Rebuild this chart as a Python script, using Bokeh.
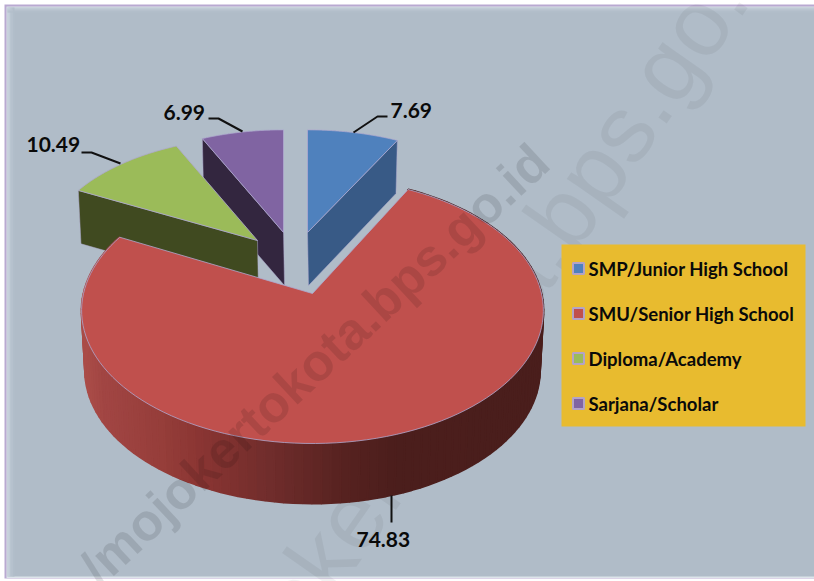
import numpy as np
from bokeh.plotting import figure
from bokeh.models import Range1d
from bokeh.core.properties import value
from bokeh.embed import file_html
from bokeh.resources import INLINE

# ---- data -----------------------------------------------------------------
categories = ["SMP/Junior High School", "SMU/Senior High School", "Diploma/Academy", "Sarjana/Scholar"]
values = [7.69, 74.83, 10.49, 6.99]
top_colors = ["#4F81BD", "#C0504D", "#9BBB59", "#8064A2"]
wall_colors = ["#385A86", "#7A302E", "#404A20", "#33263F"]
value_labels = ["7.69", "74.83", "10.49", "6.99"]

# ---- layout (page pixels) ---------------------------------------------------
W, H = 814, 581
BG = "#B0BCC8"
AX, BY, K = 229.0, 130.8, 0.128          # perspective of the pie's plane
DEPTH = 60.0
BOTTOM_X = 0.985
APEX = [(307, 232), (312, 293), (257, 240), (283, 232)]
SCALE_X = [0.94, 1.0, 0.93, 0.93]
SCALE_Y = [0.885, 1.0, 0.89, 0.885]
EDGE = "#AEA8CF"
LEADERS = [((353, 132), (377, 116), (387, 116)),
           ((391, 495), (391, 522), (391, 522)),
           ((120, 163), (91, 152), (81, 152)),
           ((242, 131), (218, 118), (208, 118))]
LABEL_POS = [(390, 110), (356, 539), (26, 144), (163, 112)]
FONT = "Lato"

p = figure(width=W, height=H, x_range=Range1d(0, W), y_range=Range1d(H, 0),
           output_backend="svg", toolbar_location=None, min_border=0,
           background_fill_color="white", border_fill_color="white", outline_line_color=None)
p.axis.visible = False
p.grid.visible = False
p.styles = {"position": "absolute", "left": "0px", "top": "0px"}

# ---- panel -------------------------------------------------------------------
p.quad(left=[4], right=[W], top=[4], bottom=[578], fill_color="#B9A9D1", line_color=None)
p.quad(left=[6], right=[W], top=[6], bottom=[577.5], fill_color="#DDE4EA", line_color=None)
p.quad(left=[7], right=[W], top=[7], bottom=[576], fill_color=BG, line_color=None)
for i, c in enumerate(["#CAD4DE", "#C2CDD8", "#BBC6D2", "#B6C1CD", "#B2BECA"]):
    p.quad(left=[7 + i * 1.4], right=[8.4 + i * 1.4], top=[7], bottom=[576], fill_color=c, line_color=None)
    p.quad(left=[7], right=[W], top=[7 + i], bottom=[8 + i], fill_color=c, line_color=None)

# back watermark (under the chart)
p.text(x=[189], y=[747], text=["mojokertokota.bps.go.id"], angle=[np.radians(55)],
       text_font=value("Liberation Sans"), text_font_size="95px",
       text_color="black", text_alpha=0.05, text_align="left", text_baseline="alphabetic")

# ---- pie ---------------------------------------------------------------------
def rim(theta, i, drop=0.0, xs=1.0):
    a = APEX[i]
    w = 1 + K * np.cos(theta)
    return (a[0] + xs * SCALE_X[i] * AX * np.sin(theta) / w,
            a[1] - SCALE_Y[i] * BY * np.cos(theta) / w + drop)

edges = np.concatenate([[0], np.cumsum(values)]) / sum(values) * 2 * np.pi

def arc(i, n=120):
    return np.linspace(edges[i], edges[i + 1], n)

# cut faces of the exploded slices
def cut_face(i, theta):
    a = APEX[i]
    d = DEPTH * SCALE_Y[i]
    tx, ty = rim(theta, i)
    bx, by = rim(theta, i, d, BOTTOM_X)
    p.patch([a[0], tx, bx, a[0] + 1], [a[1], ty, by, a[1] + d],
            fill_color=wall_colors[i], line_color=EDGE, line_width=0.5)

def top_face(i):
    a = APEX[i]
    x, y = rim(arc(i), i)
    p.patch(np.r_[a[0], x], np.r_[a[1], y], fill_color=top_colors[i],
            line_color=EDGE, line_width=0.8)

cut_face(3, edges[3])
top_face(3)
cut_face(0, edges[1])
top_face(0)
cut_face(2, edges[2])
top_face(2)

# outer wall of the big slice, shaded from left to right
ramp_x = [85, 100, 160, 200, 270, 340, 395, 545]
ramp_r = [170, 162, 150, 138, 112, 88, 76, 74]
ramp_g = [76, 70, 62, 53, 45, 35, 30, 30]
ramp_b = [72, 68, 58, 51, 44, 33, 28, 28]
t = arc(1, 130)
for a0, a1 in zip(t[:-1], t[1:]):
    x0, y0 = rim(a0, 1)
    x1, y1 = rim(a1, 1)
    x2, y2 = rim(a1, 1, DEPTH, BOTTOM_X)
    x3, y3 = rim(a0, 1, DEPTH, BOTTOM_X)
    m = (x0 + x1) / 2
    col = "#%02X%02X%02X" % (int(np.interp(m, ramp_x, ramp_r)),
                             int(np.interp(m, ramp_x, ramp_g)),
                             int(np.interp(m, ramp_x, ramp_b)))
    p.patch([x0, x1, x2, x3], [y0, y1, y2, y3], fill_color=col, line_color=col, line_width=2)
top_face(1)

# ---- leaders and value labels --------------------------------------------------
for pts in LEADERS:
    p.line([q[0] for q in pts], [q[1] for q in pts], line_color="#111111", line_width=2)
p.text(x=[q[0] for q in LABEL_POS], y=[q[1] for q in LABEL_POS], text=value_labels,
       text_font=value(FONT), text_font_style="bold", text_font_size="21px",
       text_color="#0A0A0A", text_align="left", text_baseline="alphabetic")

# ---- legend box ----------------------------------------------------------------
p.quad(left=[561], right=[805], top=[244], bottom=[426], fill_color="#E8BB2F", line_color=None)
leg_y = [268, 313, 358, 403]
p.scatter(x=[578] * 4, y=leg_y, size=11, marker="square", fill_color=top_colors,
          line_color="#B3A3C6", line_width=2)
p.text(x=[588] * 4, y=leg_y, text=categories, text_font=value(FONT), text_font_style="bold",
       text_font_size="18.5px", text_color="#0A0A0A", text_align="left", text_baseline="middle")

# front watermark (over the chart)
p.text(x=[540], y=[153], text=["/mojokertokota.bps.go.id"], angle=[np.radians(43)],
       text_font=value("Liberation Sans"), text_font_style="bold", text_font_size="52px",
       text_color="black", text_alpha=0.11, text_align="right", text_baseline="alphabetic")

open("out.html", "w").write(file_html(p, INLINE))
